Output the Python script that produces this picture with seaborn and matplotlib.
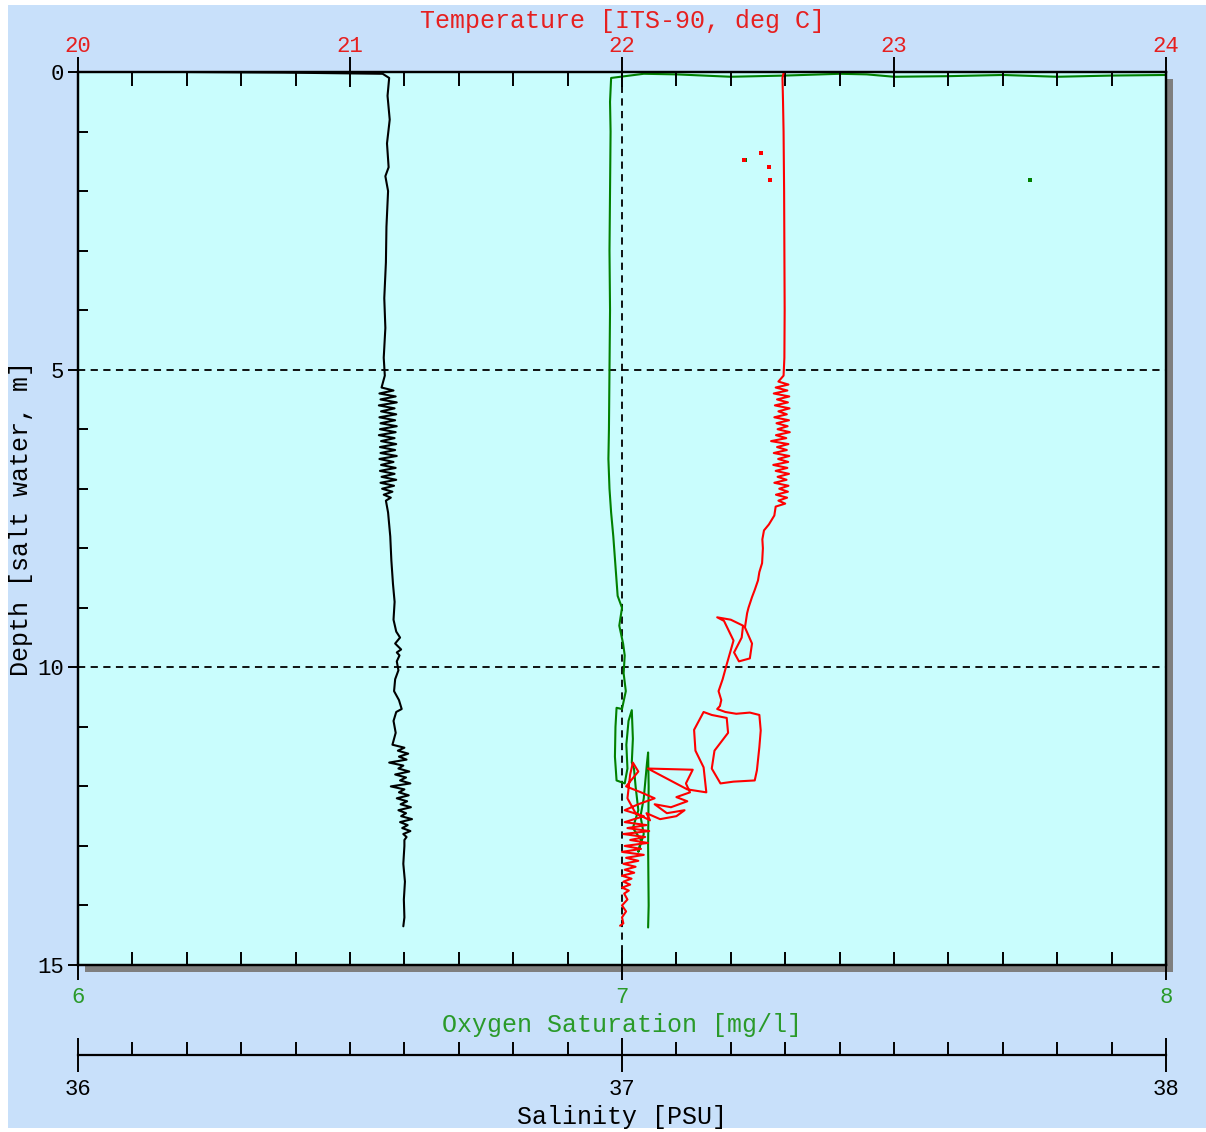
import matplotlib
matplotlib.use("Agg")
import matplotlib.pyplot as plt
import seaborn as sns
from matplotlib.patches import Rectangle
from matplotlib.ticker import MultipleLocator, FixedLocator

# CTD cast: depth (m) against salinity, oxygen and temperature

sal_depth = [0.00, 0.01, 0.03, 0.10, 0.40, 0.80, 1.20, 1.60, 1.75, 2.00, 2.60, 3.20, 3.80, 4.30,
             4.80, 5.10,
             5.30, 5.35, 5.40, 5.45, 5.50, 5.55, 5.60, 5.65, 5.70, 5.75, 5.80, 5.85, 5.90, 5.95,
             6.00, 6.05, 6.10, 6.15, 6.20, 6.25, 6.30, 6.35, 6.40, 6.45, 6.50, 6.55, 6.60, 6.65,
             6.70, 6.75, 6.80, 6.85, 6.90, 6.95, 7.00, 7.05, 7.10, 7.15, 7.20,
             7.40, 7.80, 8.20, 8.60, 8.90, 9.20, 9.40, 9.50, 9.60, 9.70, 9.75, 9.80, 9.90, 10.05,
             10.20, 10.40, 10.55, 10.70, 10.75, 10.90, 11.10,
             11.30, 11.35, 11.40, 11.45, 11.50, 11.55, 11.60, 11.65, 11.70, 11.75, 11.80, 11.85,
             11.90, 11.95, 12.00, 12.05, 12.10, 12.15, 12.20, 12.25, 12.30, 12.35, 12.40, 12.45,
             12.50, 12.55, 12.60, 12.65, 12.70, 12.75, 12.80, 12.85, 12.90,
             13.00, 13.30, 13.60, 13.90, 14.20, 14.35]
sal_value = [36.200, 36.380, 36.560, 36.572, 36.569, 36.573, 36.568, 36.571, 36.565, 36.570,
             36.567, 36.566, 36.563, 36.565, 36.562, 36.564,
             36.558, 36.580, 36.554, 36.584, 36.556, 36.586, 36.553, 36.582, 36.557, 36.585,
             36.554, 36.583, 36.556, 36.586, 36.555, 36.584, 36.553, 36.582, 36.557, 36.585,
             36.555, 36.583, 36.556, 36.586, 36.554, 36.580, 36.557, 36.584, 36.555, 36.582,
             36.558, 36.585, 36.556, 36.581, 36.559, 36.578, 36.562, 36.575, 36.566,
             36.570, 36.574, 36.576, 36.579, 36.582, 36.580, 36.585, 36.592, 36.583, 36.594,
             36.586, 36.591, 36.586, 36.589, 36.583, 36.581, 36.590, 36.595, 36.585, 36.580,
             36.584,
             36.578, 36.600, 36.588, 36.607, 36.590, 36.604, 36.572, 36.598, 36.589, 36.609,
             36.583, 36.603, 36.592, 36.611, 36.575, 36.600, 36.590, 36.608, 36.586, 36.605,
             36.593, 36.612, 36.589, 36.603, 36.594, 36.614, 36.592, 36.606, 36.596, 36.611,
             36.598, 36.604, 36.600,
             36.600, 36.598, 36.601, 36.599, 36.600, 36.598]

oxy_depth = [0.05, 0.06, 0.08, 0.05, 0.07, 0.08, 0.04, 0.03, 0.06, 0.08, 0.06, 0.04, 0.03,
             0.10, 0.50, 1.00, 2.00, 3.00, 4.00, 5.00, 6.00, 6.50, 7.00, 7.40, 7.80, 8.30,
             8.80, 9.00, 9.30, 9.60, 9.80, 10.10, 10.40, 10.70, 10.68, 11.00, 11.50, 11.90,
             11.95, 11.70, 11.30, 10.90, 10.72, 11.20, 11.60, 11.70, 12.00, 12.40, 12.70,
             12.90, 13.10, 12.80, 12.50, 12.20, 11.60, 11.43, 12.00, 13.00, 14.00, 14.37]
oxy_value = [8.000, 7.900, 7.800, 7.700, 7.600, 7.500, 7.450, 7.400, 7.300, 7.200, 7.150,
             7.100, 7.040, 6.980, 6.978, 6.979, 6.978, 6.977, 6.978, 6.977, 6.976, 6.975,
             6.977, 6.980, 6.984, 6.988, 6.992, 7.000, 6.995, 7.002, 7.005, 7.003, 7.007,
             7.000, 6.990, 6.988, 6.987, 6.990, 7.005, 7.010, 7.008, 7.012, 7.018, 7.020,
             7.018, 7.022, 7.025, 7.030, 7.020, 7.035, 7.030, 7.040, 7.034, 7.040, 7.046,
             7.048, 7.049, 7.048, 7.049, 7.048]

temp_depth = [0.00, 0.10, 0.50, 1.00, 2.00, 3.00, 4.00, 4.80, 5.10,
              5.20, 5.25, 5.30, 5.35, 5.40, 5.45, 5.50, 5.55, 5.60, 5.65, 5.70, 5.75, 5.80,
              5.85, 5.90, 5.95, 6.00, 6.05, 6.10, 6.15, 6.20, 6.25, 6.30, 6.35, 6.40, 6.45,
              6.50, 6.55, 6.60, 6.65, 6.70, 6.75, 6.80, 6.85, 6.90, 6.95, 7.00, 7.05, 7.10,
              7.15, 7.20, 7.25, 7.30,
              7.45, 7.60, 7.70, 7.85, 8.00, 8.25, 8.40, 8.54, 8.70, 8.82, 9.00, 9.09, 9.33,
              9.60, 9.85, 9.90, 9.75, 9.50, 9.30, 9.20, 9.16, 9.22, 9.55, 9.95, 10.20, 10.40,
              10.55, 10.65, 10.70, 10.75, 10.78, 10.76, 10.80, 11.06, 11.34, 11.73, 11.90,
              11.92, 11.95, 11.70, 11.40, 11.10, 10.85, 10.80, 10.75, 11.05, 11.40, 11.68,
              12.10, 12.05, 11.70, 11.72, 11.95, 12.10, 12.18, 12.25, 12.35, 12.30, 12.45,
              12.40, 12.50, 12.55, 12.45, 12.57, 12.45, 12.20, 11.80, 11.60, 11.75, 12.00,
              12.10, 12.20, 12.30, 12.40, 12.50,
              12.60, 12.65, 12.70, 12.75, 12.80, 12.85, 12.90, 12.95, 13.00, 13.05, 13.10,
              13.15, 13.20, 13.25, 13.30, 13.35, 13.40, 13.45, 13.50, 13.55, 13.60, 13.65,
              13.70, 13.75, 13.80, 13.90, 14.00, 14.10, 14.20, 14.30, 14.34]
temp_value = [22.595, 22.590, 22.592, 22.594, 22.596, 22.597, 22.598, 22.597, 22.594,
              22.575, 22.612, 22.565, 22.608, 22.558, 22.615, 22.570, 22.610, 22.562, 22.616,
              22.575, 22.606, 22.560, 22.614, 22.568, 22.609, 22.572, 22.617, 22.566, 22.604,
              22.548, 22.612, 22.570, 22.606, 22.558, 22.615, 22.574, 22.611, 22.556, 22.608,
              22.565, 22.614, 22.572, 22.605, 22.560, 22.612, 22.578, 22.610, 22.566, 22.607,
              22.575, 22.600, 22.565,
              22.560, 22.540, 22.522, 22.516, 22.518, 22.515, 22.505, 22.500, 22.488, 22.478,
              22.465, 22.460, 22.452, 22.478, 22.470, 22.430, 22.412, 22.440, 22.445, 22.400,
              22.350, 22.375, 22.410, 22.385, 22.370, 22.355, 22.365, 22.360, 22.350, 22.380,
              22.420, 22.470, 22.505, 22.510, 22.505, 22.496, 22.488, 22.410, 22.362, 22.330,
              22.340, 22.390, 22.385, 22.330, 22.300, 22.265, 22.270, 22.300, 22.310, 22.240,
              22.095, 22.260, 22.235, 22.250, 22.200, 22.240, 22.180, 22.120, 22.165, 22.230,
              22.200, 22.140, 22.090, 22.103, 22.050, 22.020, 22.030, 22.040, 22.060, 22.015,
              22.070, 22.120, 22.060, 22.010, 22.080,
              22.010, 22.090, 22.020, 22.100, 22.005, 22.085, 22.030, 22.095, 22.010, 22.070,
              22.000, 22.080, 22.015, 22.060, 22.005, 22.050, 22.010, 22.045, 22.000, 22.035,
              22.005, 22.030, 22.000, 22.025, 22.008, 22.020, 22.000, 22.015, 22.000, 22.005,
              21.993]

# stray spikes near the surface
temp_spike_depth = [1.48, 1.36, 1.82, 1.60]
temp_spike_value = [22.450, 22.510, 22.545, 22.540]
oxy_spike_depth = [1.48, 1.82]
oxy_spike_value = [7.226, 7.750]

RED = "#e62020"
GREEN = "#008000"
GREEN_TXT = "#2a9a2a"
BG = "#c8e0fa"
PLOT_BG = "#c9fdfd"

sns.set_theme(style="white")
plt.rcParams["font.family"] = ["Liberation Mono", "DejaVu Sans Mono"]

W, H = 1206, 1132
fig = plt.figure(figsize=(W / 100, H / 100), dpi=100, facecolor="white")
fig.add_artist(Rectangle((8 / W, 4 / H), 1198 / W, 1123 / H, transform=fig.transFigure,
                         facecolor=BG, edgecolor="none", zorder=-2))
# drop shadow behind the plot frame
fig.add_artist(Rectangle((85 / W, 1 - 972 / H), 1088 / W, 893 / H, transform=fig.transFigure,
                         facecolor="#7f7f7f", edgecolor="none", zorder=-1))

ax = fig.add_axes([78 / W, 1 - 965 / H, 1088 / W, 893 / H])
ax.set_facecolor(PLOT_BG)
ax2 = ax.twiny()
ax3 = ax.twiny()

# data
sns.lineplot(x=oxy_value, y=oxy_depth, sort=False, estimator=None, color=GREEN, lw=1.5, ax=ax)
sns.scatterplot(x=oxy_spike_value, y=oxy_spike_depth, color=GREEN, s=5, marker="s", linewidth=0, ax=ax)
sns.lineplot(x=temp_value, y=temp_depth, sort=False, estimator=None, color="#ff0000", lw=1.5, ax=ax2)
sns.scatterplot(x=temp_spike_value, y=temp_spike_depth, color="#ff0000", s=5, marker="s", linewidth=0, ax=ax2)
sns.lineplot(x=sal_value, y=sal_depth, sort=False, estimator=None, color="black", lw=1.5, ax=ax3)

# dashed reference lines
for d in [5, 10]:
    ax.axhline(d, color="black", lw=1.3, ls=(0, (4, 3)), zorder=1)
ax.axvline(7, color="black", lw=1.3, ls=(0, (4, 3)), zorder=1)

ax.set_ylim(15, 0)
ax.set_xlim(6, 8)
ax2.set_xlim(20, 24)
ax3.set_xlim(36, 38)

tick_fs = 16
lab_fs = 18

# oxygen axis (bottom of the frame)
ax.xaxis.set_major_locator(FixedLocator([6, 7, 8]))
ax.xaxis.set_minor_locator(MultipleLocator(0.1))
ax.tick_params(axis="x", which="major", direction="inout", length=21, width=1.4,
               color="black", labelcolor=GREEN_TXT, labelsize=tick_fs, pad=5, bottom=True)
ax.tick_params(axis="x", which="minor", direction="in", length=9.5, width=1.4, color="black", bottom=True)
ax.set_xlabel("Oxygen Saturation [mg/l]", color=GREEN_TXT, fontsize=lab_fs, labelpad=4)

# depth axis
ax.yaxis.set_major_locator(FixedLocator([0, 5, 10, 15]))
ax.yaxis.set_minor_locator(MultipleLocator(1))
ax.tick_params(axis="y", which="major", direction="out", length=7, width=1.4,
               color="black", labelcolor="black", labelsize=tick_fs, pad=3, left=True)
ax.tick_params(axis="y", which="minor", direction="in", length=7, width=1.4, color="black", left=True)
ax.set_ylabel("Depth [salt water, m]", color="black", fontsize=lab_fs, labelpad=3)

# temperature axis (top)
ax2.xaxis.set_major_locator(FixedLocator([20, 21, 22, 23, 24]))
ax2.xaxis.set_minor_locator(MultipleLocator(0.2))
ax2.tick_params(axis="x", which="major", direction="inout", length=21, width=1.4,
                color="black", labelcolor=RED, labelsize=tick_fs, pad=0, top=True)
ax2.tick_params(axis="x", which="minor", direction="in", length=10, width=1.4, color="black", top=True)
ax2.set_xlabel("Temperature [ITS-90, deg C]", color=RED, fontsize=lab_fs, labelpad=6)

# salinity axis, detached below the frame
ax3.xaxis.set_ticks_position("bottom")
ax3.xaxis.set_label_position("bottom")
ax3.spines["bottom"].set_position(("outward", 64.8))
for s in ["top", "left", "right"]:
    ax3.spines[s].set_visible(False)
ax3.xaxis.set_major_locator(FixedLocator([36, 37, 38]))
ax3.xaxis.set_minor_locator(MultipleLocator(0.1))
ax3.tick_params(axis="x", which="major", direction="inout", length=24, width=1.4,
                color="black", labelcolor="black", labelsize=tick_fs, pad=5, bottom=True)
ax3.tick_params(axis="x", which="minor", direction="in", length=9.5, width=1.4, color="black", bottom=True)
ax3.set_xlabel("Salinity [PSU]", color="black", fontsize=lab_fs, labelpad=4)

for a in [ax, ax2, ax3]:
    for s in a.spines.values():
        s.set_color("black")
        s.set_linewidth(1.6)

fig.savefig("out.png", dpi=100, facecolor="white")
